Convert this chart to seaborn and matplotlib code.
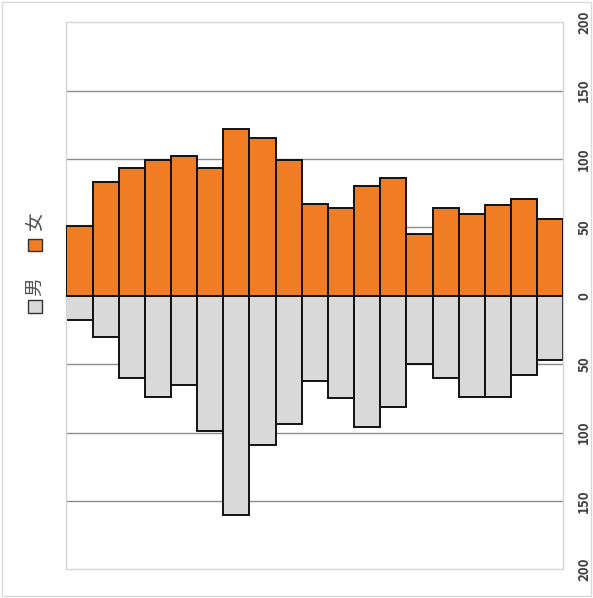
import matplotlib
matplotlib.use("Agg")
import matplotlib.pyplot as plt
from matplotlib.patches import Rectangle
import seaborn as sns
import pandas as pd

sns.set_theme(style="white")
plt.rcParams["font.family"] = ["Noto Sans CJK SC", "DejaVu Sans"]

# Age groups and head counts per group
groups = ["0-4", "5-9", "10-14", "15-19", "20-24", "25-29", "30-34", "35-39", "40-44",
          "45-49", "50-54", "55-59", "60-64", "65-69", "70-74", "75-79", "80-84",
          "85-89", "90+"]
female = [51, 83, 93, 99, 102, 93, 122, 115, 99, 67, 64, 80, 86, 45, 64, 60, 66, 71, 56]
male = [18, 30, 60, 74, 65, 99, 160, 109, 94, 62, 75, 96, 81, 50, 60, 74, 74, 58, 47]
tick_values = [-200, -150, -100, -50, 0, 50, 100, 150, 200]

female_color = "#F07D24"
male_color = "#D9D9D9"

df = pd.DataFrame({
    "group": groups * 2,
    "value": female + [-v for v in male],
    "sex": ["女"] * len(groups) + ["男"] * len(groups),
})

fig = plt.figure(figsize=(5.93, 5.98), dpi=100)
ax = fig.add_axes([0.112, 0.048, 0.838, 0.915])

for ypos in [-150, -100, -50, 50, 100, 150]:
    ax.axhline(ypos, color="#8C8C8C", lw=1.0, zorder=0)

sns.barplot(data=df[df["sex"] == "男"], x="group", y="value", order=groups,
            color=male_color, width=1.0, edgecolor="#111111", linewidth=1.4,
            saturation=1, ax=ax, zorder=2)
sns.barplot(data=df[df["sex"] == "女"], x="group", y="value", order=groups,
            color=female_color, width=1.0, edgecolor="#111111", linewidth=1.4,
            saturation=1, ax=ax, zorder=3)

ax.set_xlim(-0.5, len(groups) - 0.5)
ax.set_ylim(-200, 200)
ax.set_xlabel("")
ax.set_ylabel("")
ax.set_xticks([])
ax.yaxis.tick_right()
ax.set_yticks(tick_values)
ax.set_yticklabels([str(abs(v)) for v in tick_values], rotation=90, va="center",
                   fontsize=9.5, color="#404040", fontweight="bold")
ax.tick_params(axis="y", length=0, pad=10)
for side in ["left", "right", "top", "bottom"]:
    ax.spines[side].set_color("#D6D6D6")
    ax.spines[side].set_linewidth(1.0)

# Legend drawn vertically on the left side
legend_items = [("男", male_color, 0.487, 0.520), ("女", female_color, 0.590, 0.629)]
for label, col, ymark, ytext in legend_items:
    fig.patches.append(Rectangle((0.059 - 0.011, ymark - 0.0105), 0.022, 0.021,
                                 transform=fig.transFigure, facecolor=col,
                                 edgecolor="#333333", lw=1.0))
    fig.text(0.059, ytext, label, rotation=90, ha="center", va="center",
             fontsize=13.5, color="#505050")

# Light frame around the whole chart
fig.patches.append(Rectangle((0.003, 0.003), 0.994, 0.994, transform=fig.transFigure,
                             fill=False, edgecolor="#D9D9D9", lw=1.0))

fig.savefig("out.png", dpi=100)
